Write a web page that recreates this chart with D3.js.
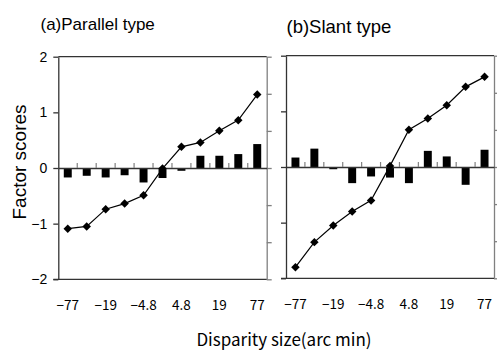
<!DOCTYPE html>
<html>
<head>
<meta charset="utf-8">
<script src="https://cdn.jsdelivr.net/npm/d3@7"></script>
<style>
  body { margin: 0; background: #fff; }
  svg { display: block; }
</style>
</head>
<body>
<div id="chart"></div>
<script>
// disparity categories (arc min) and which ones get a label
const categories = ["-77", "-38", "-19", "-9.6", "-4.8", "0", "4.8", "9.6", "19", "38", "77"];
const tickLabels = ["-77", "-19", "-4.8", "4.8", "19", "77"];
const yTicks = [-2, -1, 0, 1, 2];
const y2Ticks = [-3, -2, -1, 0, 1, 2, 3];

// (a) parallel type
const parallelLine = [-1.09, -1.05, -0.74, -0.64, -0.49, -0.01, 0.38, 0.46, 0.67, 0.86, 1.32];
const parallelBars = [-0.17, -0.14, -0.17, -0.13, -0.26, -0.18, -0.05, 0.22, 0.22, 0.25, 0.43];
// (b) slant type
const slantLine = [-1.80, -1.35, -1.05, -0.80, -0.60, 0.02, 0.67, 0.87, 1.11, 1.44, 1.62];
const slantBars = [0.17, 0.33, -0.04, -0.29, -0.17, -0.19, -0.29, 0.29, 0.19, -0.32, 0.31];

const W = 497, H = 351;
const svg = d3.select("#chart").append("svg").attr("width", W).attr("height", H);

const frameCol = "#333", greyCol = "#808080";

function drawPanel(o) {
    let x = d3.scaleBand().domain(categories).range([o.left, o.right]).padding(0);
    let y = d3.scaleLinear().domain([-2, 2]).range([o.bottom, o.top]);
    let y2 = d3.scaleLinear().domain([-3, 3]).range([o.bottom, o.top]);
    let g = svg.append("g");

    // right secondary axis (grey)
    let ra = g.append("g").attr("transform", "translate(" + o.right + ",0)")
        .call(d3.axisRight(y2).tickValues(y2Ticks).tickSize(5).tickSizeOuter(0).tickFormat(""));
    ra.selectAll("path,line").attr("stroke", greyCol).attr("stroke-width", 1.3);

    // top frame line
    g.append("line").attr("x1", o.left).attr("x2", o.right)
        .attr("y1", o.top).attr("y2", o.top)
        .attr("stroke", frameCol).attr("stroke-width", 1.3);
    // bottom frame line
    g.append("line").attr("x1", o.left - 5).attr("x2", o.right)
        .attr("y1", o.bottom).attr("y2", o.bottom)
        .attr("stroke", frameCol).attr("stroke-width", 1.3);

    // left axis
    let la = g.append("g").attr("transform", "translate(" + o.left + ",0)")
        .call(d3.axisLeft(y).tickValues(yTicks).tickSize(5).tickSizeOuter(0).tickPadding(6)
            .tickFormat(o.labels ? d3.format("d") : ""));
    la.selectAll("path,line").attr("stroke", frameCol).attr("stroke-width", 1.3);
    la.selectAll("text").attr("font-family", "Liberation Sans, Arial, sans-serif")
        .attr("font-size", 14).attr("fill", "#000");

    // bars
    let bw = x.bandwidth() * 0.42;
    g.selectAll(".bar").data(o.bars).enter().append("rect")
        .attr("x", (d, i) => x(categories[i]) + (x.bandwidth() - bw) / 2)
        .attr("y", d => y(Math.max(0, d)))
        .attr("width", bw)
        .attr("height", d => Math.abs(y(d) - y(0)))
        .attr("fill", "#000");

    // zero line with small ticks at category boundaries
    let za = g.append("g").attr("transform", "translate(0," + y(0) + ")")
        .call(d3.axisBottom(x).tickSize(-5).tickSizeOuter(0).tickFormat("")
            .tickValues(categories.slice(1)));
    za.selectAll(".tick").attr("transform", d => "translate(" + x(d) + ",0)");
    za.select("path").attr("stroke", frameCol).attr("stroke-width", 1.3);
    za.selectAll("line").attr("stroke", greyCol).attr("stroke-width", 1.2);

    // category labels
    let ca = g.append("g").attr("transform", "translate(0," + (o.bottom + 18) + ")")
        .call(d3.axisBottom(x).tickValues(tickLabels).tickSize(0)
            .tickFormat(d => d.replace("-", "\u2212")));
    ca.select("path").remove();
    ca.selectAll("text").attr("font-family", "Noto Sans CJK JP, sans-serif")
        .attr("font-size", 13.5).attr("fill", "#000");

    // line + diamonds
    let line = d3.line().x((d, i) => x(categories[i]) + x.bandwidth() / 2).y(d => y(d));
    g.append("path").datum(o.line).attr("d", line)
        .attr("fill", "none").attr("stroke", "#000").attr("stroke-width", 1.2);
    g.selectAll(".pt").data(o.line).enter().append("path")
        .attr("d", d3.symbol().type(d3.symbolSquare).size(36))
        .attr("transform", (d, i) => "translate(" + (x(categories[i]) + x.bandwidth() / 2) + "," + y(d) + ") rotate(45)")
        .attr("fill", "#000");

    // panel title
    svg.append("text").attr("x", o.titleX).attr("y", o.titleY)
        .attr("font-family", "Liberation Sans, Arial, sans-serif")
        .attr("font-size", o.titleSize).text(o.title);
}

drawPanel({left: 58.3, right: 266.7, top: 56.7, bottom: 279.3, labels: true,
    bars: parallelBars, line: parallelLine,
    title: "(a)Parallel type", titleX: 40.5, titleY: 30, titleSize: 17});
drawPanel({left: 286, right: 494, top: 55.7, bottom: 278.3, labels: false,
    bars: slantBars, line: slantLine,
    title: "(b)Slant type", titleX: 286.5, titleY: 33, titleSize: 18.5});

// axis titles
svg.append("text")
    .attr("transform", "translate(26,162) rotate(-90)")
    .attr("text-anchor", "middle")
    .attr("font-family", "Liberation Sans, Arial, sans-serif")
    .attr("font-size", 19).text("Factor scores");

svg.append("text")
    .attr("x", 284).attr("y", 346)
    .attr("text-anchor", "middle")
    .attr("font-family", "Noto Sans CJK JP, sans-serif")
    .attr("font-size", 17).text("Disparity size(arc min)");
</script>
</body>
</html>
